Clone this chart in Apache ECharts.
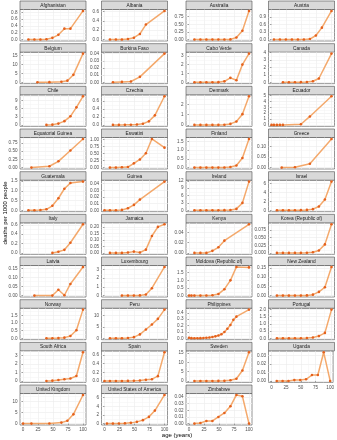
<!DOCTYPE html>
<html>
<head>
<meta charset="utf-8">
<script src="https://cdn.jsdelivr.net/npm/echarts@6/dist/echarts.min.js"></script>
<style>
html,body{margin:0;padding:0;background:#fff}
#chart{width:337px;height:440px}
#err{position:absolute;left:0;top:0;font:9px monospace;color:red;white-space:pre-wrap;width:337px}
</style>
</head>
<body>
<div id="chart"></div>
<div id="err"></div>
<script>
// one entry per panel, alphabetical, same order in every list
var countries = ['Afghanistan','Albania','Australia','Austria',
  'Belgium','Burkina Faso','Cabo Verde','Canada',
  'Chile','Czechia','Denmark','Ecuador',
  'Equatorial Guinea','Eswatini','Finland','Greece',
  'Guatemala','Guinea','Ireland','Israel',
  'Italy','Jamaica','Kenya','Korea (Republic of)',
  'Latvia','Luxembourg','Moldova (Republic of)','New Zealand',
  'Norway','Peru','Philippines','Portugal',
  'South Africa','Spain','Sweden','Uganda',
  'United Kingdom','United States of America','Zimbabwe'];

// age (years) = upper end of each age band, open band drawn at 100
var ages = [
  [9,19,29,39,49,59,69,79,100],            // Afghanistan
  [9,19,29,39,49,59,69,100],               // Albania
  [9,19,29,39,49,59,69,79,89,100],         // Australia
  [4,14,24,34,44,54,64,74,84,100],         // Austria
  [24,44,64,74,84,100],                    // Belgium
  [14,29,44,59,100],                       // Burkina Faso
  [9,19,29,39,49,59,69,79,89,100],         // Cabo Verde
  [19,29,39,49,59,69,79,100],              // Canada
  [39,49,59,69,79,89,100],                 // Chile
  [14,24,34,44,54,64,74,84,100],           // Czechia
  [9,19,29,39,49,59,69,79,89,100],         // Denmark
  [0,4,9,14,19,49,64,100],                 // Ecuador
  [14,44,59,79,100],                       // Equatorial Guinea
  [9,19,29,39,49,59,69,79,100],            // Eswatini
  [9,19,29,39,49,59,69,79,89,100],         // Finland
  [17,39,64,100],                          // Greece
  [9,19,29,39,49,59,69,79,100],            // Guatemala
  [0,9,19,29,39,49,59,100],                // Guinea
  [9,19,29,39,49,59,69,79,89,100],         // Ireland
  [9,19,29,39,49,59,69,79,89,100],         // Israel
  [49,59,69,79,100],                       // Italy
  [9,19,29,39,49,59,69,79,89,100],         // Jamaica
  [9,19,29,39,49,59,100],                  // Kenya
  [9,19,29,39,49,59,69,79,89,100],         // Korea
  [19,49,59,69,79,100],                    // Latvia
  [29,39,49,59,69,79,100],                 // Luxembourg
  [0,4,9,19,29,39,49,59,69,79,100],        // Moldova
  [9,19,29,39,49,59,69,79,89,100],         // New Zealand
  [39,49,59,69,79,89,100],                 // Norway
  [9,19,29,39,49,59,69,79,89,100],         // Peru
  [0,4,9,14,19,24,29,34,39,44,49,54,59,64,69,74,79,100], // Philippines
  [9,19,29,39,49,59,69,79,89,100],         // Portugal
  [39,49,59,69,79,89,100],                 // South Africa
  [0,9,19,29,39,49,59,69,79,89,100],       // Spain
  [9,19,29,39,49,59,69,79,89,100],         // Sweden
  [9,19,29,39,49,59,69,79,89,100],         // Uganda
  [0,14,44,64,74,84,100],                  // United Kingdom
  [4,14,24,34,44,54,64,74,84,100],         // United States of America
  [9,19,29,39,49,59,69,79,89,100]          // Zimbabwe
];

// deaths per 1000 people
var deaths = [
  [0,0,0,0.01,0.05,0.14,0.32,0.32,0.84],
  [0,0,0.003,0.01,0.04,0.12,0.32,0.61],
  [0,0,0,0,0.001,0.002,0.006,0.07,0.29,0.94],
  [0,0,0,0,0.002,0.005,0.02,0.16,0.47,1.13],
  [0.01,0.05,0.25,0.9,4.2,16.2],
  [0,0.0005,0.001,0.0075,0.04],
  [0,0,0,0,0.01,0.1,0.5,0.22,2.0,3.25],
  [0,0,0.005,0.01,0.03,0.13,0.5,3.85],
  [0.02,0.12,0.5,1.4,3.2,6.5,10.6],
  [0,0,0.002,0.005,0.01,0.03,0.09,0.24,0.72],
  [0,0,0,0,0.002,0.01,0.1,0.33,1.05,2.8],
  [0,0,0,0,0.005,0.12,1.45,4.9],
  [0,0.04,0.19,0.52,0.87],
  [0,0,0.01,0.02,0.15,0.29,0.51,1.02,0.71],
  [0,0,0,0,0,0.005,0.03,0.12,0.55,1.65],
  [0,0.0015,0.018,0.135],
  [0,0,0.01,0.05,0.23,0.62,1.11,1.41,1.48],
  [0,0,0,0.0005,0.003,0.008,0.016,0.043],
  [0,0,0,0,0.01,0.04,0.12,0.55,3.0,11.7],
  [0,0,0,0,0.02,0.08,0.25,0.85,2.4,6.4],
  [0.005,0.03,0.07,0.22,0.61],
  [0,0,0,0.003,0.01,0.003,0.025,0.13,0.2,0.22],
  [0,0,0,0.004,0.011,0.024,0.056],
  [0,0,0,0,0,0.0005,0.002,0.008,0.028,0.094],
  [0,0,0.033,0.002,0.065,0.16],
  [0,0,0,0.02,0.12,0.85,3.3],
  [0,0,0,0,0.01,0.02,0.1,0.42,1.0,1.88,1.85],
  [0,0,0,0,0,0.001,0.005,0.02,0.045,0.155],
  [0,0.005,0.01,0.04,0.15,0.52,1.87],
  [0,0,0.02,0.1,0.5,1.7,3.9,6.1,8.6,12.7],
  [0.01,0.004,0.002,0.003,0.004,0.006,0.01,0.015,0.022,0.032,0.046,0.065,0.1,0.15,0.21,0.29,0.34,0.45],
  [0,0,0,0,0.005,0.02,0.05,0.15,0.37,1.98],
  [0.02,0.05,0.12,0.22,0.3,0.6,3.35],
  [0,0,0,0,0.001,0.003,0.01,0.025,0.04,0.11,0.66],
  [0,0,0,0,0.01,0.05,0.35,1.2,5.6,15.4],
  [0,0,0,0.001,0.001,0.002,0.007,0.007,0.034,0],
  [0.005,0.01,0.07,0.45,1.3,4.2,13],
  [0.003,0.002,0.02,0.06,0.17,0.4,0.8,1.55,3.0,6.6],
  [0,0.001,0.004,0.004,0.01,0.016,0.026,0.043,0.041,0]
];

// y tick labels of each panel
var yTicks = [
  [0,0.2,0.4,0.6,0.8], [0,0.2,0.4,0.6], [0,0.25,0.5,0.75], [0,0.3,0.6,0.9],
  [0,5,10,15], [0,0.01,0.02,0.03,0.04], [0,1,2,3], [0,1,2,3,4],
  [0,3,6,9], [0,0.2,0.4,0.6], [0,1,2], [0,1,2,3,4,5],
  [0,0.25,0.5,0.75], [0,0.25,0.5,0.75,1], [0,0.5,1,1.5], [0,0.05,0.1],
  [0,0.5,1,1.5], [0,0.01,0.02,0.03,0.04], [0,3,6,9,12], [0,2,4,6],
  [0,0.2,0.4,0.6], [0,0.05,0.1,0.15,0.2], [0,0.02,0.04], [0,0.025,0.05,0.075],
  [0,0.05,0.1,0.15], [0,1,2,3], [0,0.5,1,1.5], [0,0.05,0.1,0.15],
  [0,0.5,1,1.5], [0,5,10], [0,0.1,0.2,0.3,0.4], [0,0.5,1,1.5,2],
  [0,1,2,3], [0,0.2,0.4,0.6], [0,5,10,15], [0,0.01,0.02,0.03],
  [0,5,10], [0,2,4,6], [0,0.01,0.02,0.03,0.04]
];

var xTicks = [0,25,50,75,100];
var xMinor = [12.5,37.5,62.5,87.5];

// layout
var colLeft = [20, 101.5, 186, 268.5];
var panelW = 66;
var rowPitch = 42.67;
var stripH = 8.5;
var panelH = 31.5;
var fontFam = 'Liberation Sans, Arial, sans-serif';

function decimals(v) {
  var s = String(v);
  return s.indexOf('.') < 0 ? 0 : s.length - s.indexOf('.') - 1;
}

function buildOption() {
  var grids = [], xAxes = [], yAxes = [], series = [], graphics = [];
  var n = countries.length;

  for (var i = 0; i < n; i++) {
    var col = i % 4, row = Math.floor(i / 4);
    var stripTop = 1 + row * rowPitch;
    var pTop = stripTop + stripH;
    var pLeft = colLeft[col];
    var bottomRow = i + 4 >= n;

    var ys = deaths[i];
    var lo = Math.min.apply(null, ys), hi = Math.max.apply(null, ys);
    var pad = (hi - lo) * 0.05;
    lo -= pad; hi += pad;

    var t = yTicks[i];
    var step = t[1] - t[0];
    var d = Math.max.apply(null, t.map(decimals));
    var minor = [];
    for (var k = -1; k < t.length; k++) {
      var m = t[0] + (k + 0.5) * step;
      if (m > lo && m < hi) minor.push(m);
    }

    grids.push({
      left: pLeft, top: pTop, width: panelW, height: panelH,
      show: true, borderColor: '#4d4d4d', borderWidth: 0.6,
      backgroundColor: '#fff', containLabel: false
    });

    xAxes.push({
      gridIndex: i, type: 'value', min: -5, max: 105,
      axisLine: {show: false},
      axisTick: {show: bottomRow, customValues: xTicks, length: 1.5,
        lineStyle: {color: '#4d4d4d', width: 0.5}},
      splitLine: {show: true, lineStyle: {color: '#ebebeb', width: 0.6}},
      axisLabel: {
        show: bottomRow, customValues: xTicks,
        fontSize: 4.6, color: '#4d4d4d', fontFamily: fontFam, margin: 2.5
      }
    });

    yAxes.push({
      gridIndex: i, type: 'value', min: lo, max: hi,
      axisLine: {show: false},
      axisTick: {show: true, customValues: t, length: 1.5,
        lineStyle: {color: '#4d4d4d', width: 0.5}},
      splitLine: {show: true, lineStyle: {color: '#ebebeb', width: 0.6}},
      axisLabel: {
        customValues: t, fontSize: 4.6, color: '#4d4d4d', fontFamily: fontFam, margin: 2.5,
        formatter: (function (dd) { return function (v) { return Number(v).toFixed(dd); }; })(d)
      }
    });

    var gridMarks = minor.map(function (v) { return {yAxis: v}; })
      .concat(xMinor.map(function (v) { return {xAxis: v}; }));

    series.push({
      type: 'line', xAxisIndex: i, yAxisIndex: i,
      data: ages[i].map(function (a, j) { return [a, ys[j]]; }),
      symbol: 'circle', symbolSize: 2.6, showSymbol: true,
      itemStyle: {color: '#e4611d'},
      lineStyle: {color: '#f29a52', width: 1.5, opacity: 0.85},
      silent: true,
      markLine: {
        silent: true, symbol: 'none', animation: false, z: 1,
        label: {show: false},
        lineStyle: {color: '#f2f2f2', width: 0.5, type: 'solid'},
        emphasis: {disabled: true},
        data: gridMarks
      }
    });

    // strip
    graphics.push({
      type: 'rect', silent: true,
      shape: {x: pLeft, y: stripTop, width: panelW, height: stripH},
      style: {fill: '#d9d9d9', stroke: '#4d4d4d', lineWidth: 0.6}
    });
    graphics.push({
      type: 'text', silent: true,
      style: {
        text: countries[i], x: pLeft + panelW / 2, y: stripTop + stripH / 2 + 0.3,
        align: 'center', verticalAlign: 'middle',
        font: '4.8px ' + fontFam, fill: '#1a1a1a'
      }
    });
  }

  graphics.push({
    type: 'text', silent: true, x: 5, y: 213, rotation: Math.PI / 2,
    style: {text: 'deaths per 1000 people', align: 'center', verticalAlign: 'middle',
      font: '6px ' + fontFam, fill: '#000'}
  });
  graphics.push({
    type: 'text', silent: true,
    style: {text: 'age (years)', x: 177, y: 435.5, align: 'center', verticalAlign: 'middle',
      font: '6px ' + fontFam, fill: '#000'}
  });

  return {
    animation: false,
    backgroundColor: '#fff',
    grid: grids,
    xAxis: xAxes,
    yAxis: yAxes,
    series: series,
    graphic: graphics
  };
}

try {
  var chart = echarts.init(document.getElementById('chart'), null, {renderer: 'canvas'});
  chart.setOption(buildOption());
} catch (e) {
  document.getElementById('err').textContent = String(e && e.stack || e).slice(0, 1500);
}
</script>
</body>
</html>
